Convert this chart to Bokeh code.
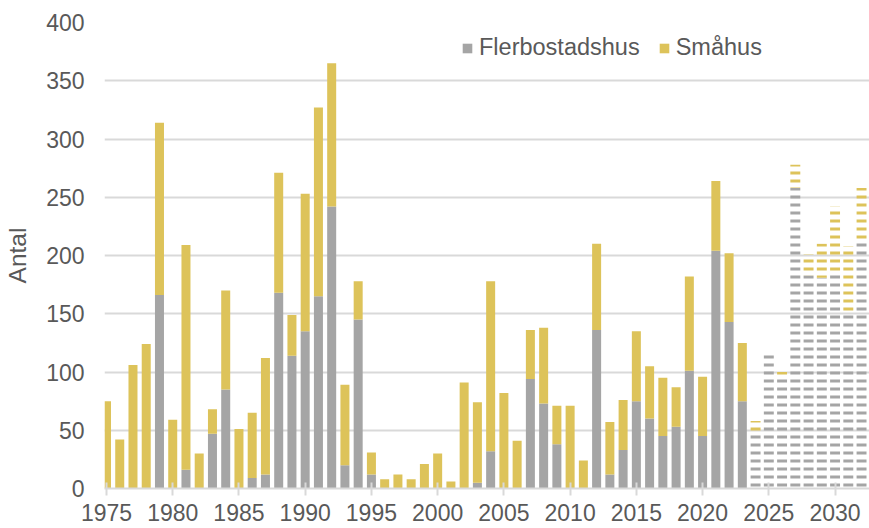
from bokeh.plotting import figure
from bokeh.models import Legend, LegendItem, FixedTicker, ColumnDataSource, Range1d
from bokeh.embed import file_html
from bokeh.resources import INLINE

# ---- data ----
years = list(range(1975, 2024))
flerbostadshus = [0, 0, 0, 0, 166, 0, 16, 0, 47, 85,
                  0, 9, 12, 168, 114, 135, 165, 242, 20, 145,
                  12, 0, 0, 0, 0, 0, 0, 0, 5, 32,
                  0, 0, 94, 73, 38, 0, 0, 136, 12, 33,
                  75, 60, 45, 53, 101, 45, 204, 143, 75]
smahus = [75, 42, 106, 124, 148, 59, 193, 30, 21, 85,
          51, 56, 100, 103, 35, 118, 162, 123, 69, 33,
          19, 8, 12, 8, 21, 30, 6, 91, 69, 146,
          82, 41, 42, 65, 33, 71, 24, 74, 45, 43,
          60, 45, 50, 34, 81, 51, 60, 59, 50]
prog_years = list(range(2024, 2033))
prog_flerbostadshus = [48, 118, 94, 258, 183, 181, 184, 150, 211]
prog_smahus = [10, 0, 6, 20, 18, 29, 58, 58, 47]

x_ticks = [1975, 1980, 1985, 1990, 1995, 2000, 2005, 2010, 2015, 2020, 2025, 2030]
y_ticks = [0, 50, 100, 150, 200, 250, 300, 350, 400]
series_names = ["Flerbostadshus", "Småhus"]

GRAY = "#A5A5A5"
GOLD = "#DDC35A"
TEXT = "#595959"
GRID = "#D9D9D9"
FONT = "Liberation Sans"

p = figure(width=869, height=528, output_backend="svg", toolbar_location=None,
           x_range=Range1d(1974.85, 2032.6), y_range=Range1d(0, 400),
           min_border_left=104, min_border_right=0, min_border_top=22,
           min_border_bottom=40)
p.outline_line_color = None
p.background_fill_color = "white"
p.border_fill_color = "white"

src = ColumnDataSource(dict(year=years, f=flerbostadshus, s=smahus))
solid = p.vbar_stack(["f", "s"], x="year", width=0.68, color=[GRAY, GOLD],
                     line_color=None, source=src)

src2 = ColumnDataSource(dict(year=prog_years, f=prog_flerbostadshus, s=prog_smahus))
p.vbar_stack(["f", "s"], x="year", width=0.75, fill_color=[GRAY, GOLD], fill_alpha=0,
             line_color=None, hatch_pattern="horizontal_line",
             hatch_color=[GRAY, GOLD], hatch_scale=8, hatch_weight=3, source=src2)

# axes
xa = p.xaxis[0]
xa.ticker = FixedTicker(ticks=x_ticks)
xa.axis_line_color = GRID
xa.axis_line_width = 2
xa.major_tick_line_color = GRID
xa.major_tick_line_width = 2
xa.major_tick_in = 6
xa.major_tick_out = 7
xa.minor_tick_line_color = None
xa.major_label_text_font = FONT
xa.major_label_text_font_size = "23px"
xa.major_label_text_color = TEXT
xa.major_label_standoff = 8

ya = p.yaxis[0]
ya.ticker = FixedTicker(ticks=y_ticks)
ya.axis_line_color = None
ya.major_tick_line_color = None
ya.minor_tick_line_color = None
ya.major_tick_in = 0
ya.major_tick_out = 0
ya.major_label_text_font = FONT
ya.major_label_text_font_size = "23px"
ya.major_label_text_color = TEXT
ya.major_label_standoff = 20
ya.axis_label = "Antal"
ya.axis_label_text_font = FONT
ya.axis_label_text_font_size = "24.5px"
ya.axis_label_text_font_style = "normal"
ya.axis_label_text_color = TEXT
ya.axis_label_standoff = 12

p.xgrid.visible = False
p.ygrid.ticker = FixedTicker(ticks=y_ticks)
p.ygrid.grid_line_color = GRID
p.ygrid.grid_line_width = 2

legend = Legend(items=[LegendItem(label=series_names[0], renderers=[solid[0]]),
                       LegendItem(label=series_names[1], renderers=[solid[1]])],
                orientation="horizontal", location=(357, 427),
                border_line_color=None, background_fill_alpha=0,
                label_text_font=FONT, label_text_font_size="23.5px",
                label_text_color=TEXT, glyph_width=12, glyph_height=12,
                label_standoff=6, spacing=18, padding=0, margin=0)
p.add_layout(legend)

open("out.html", "w").write(file_html(p, INLINE))
